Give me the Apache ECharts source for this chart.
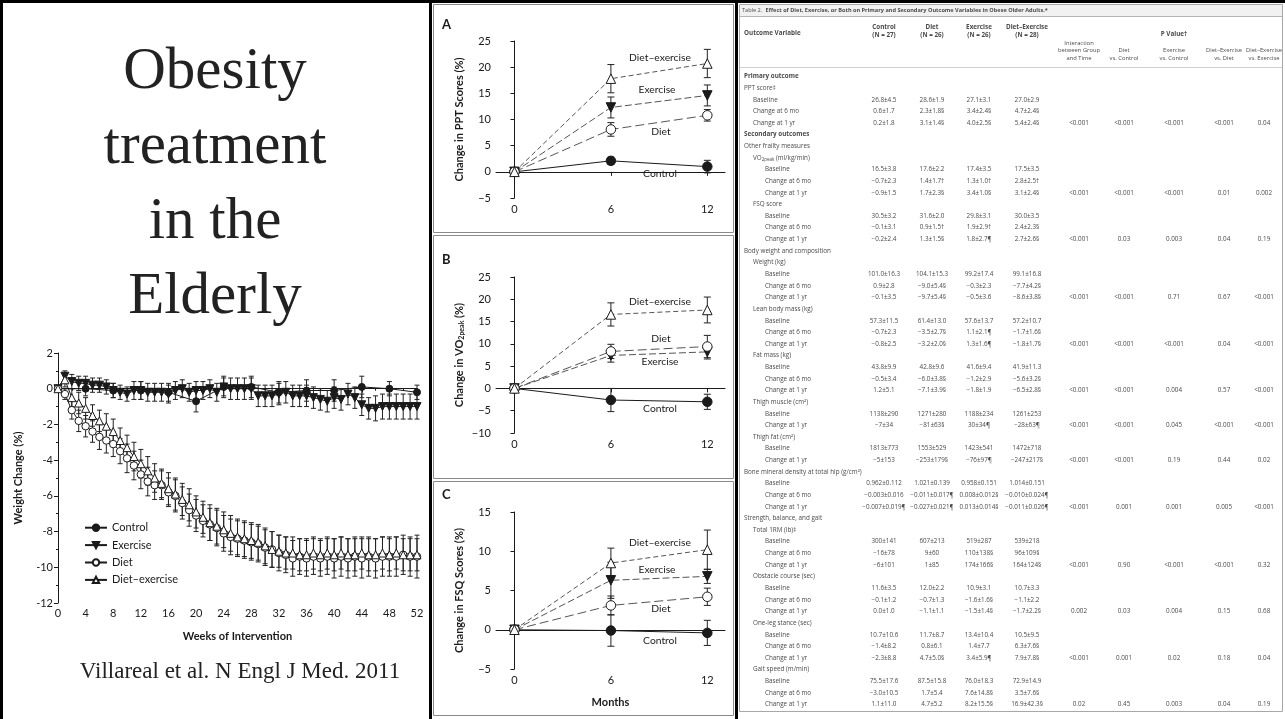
<!DOCTYPE html>
<html>
<head>
<meta charset="utf-8">
<script src="https://cdn.jsdelivr.net/npm/echarts@6/dist/echarts.min.js"></script>
<style>
  html, body { margin: 0; padding: 0; background: #fff; }
  #main { width: 1285px; height: 719px; }
</style>
</head>
<body>
<div id="main"></div>
<script>
// ---------- Weight change over 52 weeks (percent) ----------
const weeks = [0,1,2,3,4,5,6,7,8,9,10,11,12,13,14,15,16,17,18,19,20,21,22,23,24,25,26,
  27,28,29,30,31,32,33,34,35,36,37,38,39,40,41,42,43,44,45,46,47,48,49,50,51,52];

const controlWeeks = [0,4,8,12,16,20,24,28,32,36,40,44,48,52];
const controlWeight = [0,0.0,-0.1,-0.1,-0.2,-0.7,0.1,0.1,-0.2,-0.1,-0.1,0.1,0.0,-0.2];
const controlWeightSd = [0,0.4,0.4,0.5,0.5,0.6,0.6,0.6,0.6,0.6,0.6,0.6,0.4,0.4];

const exerciseWeight = [0,0.7,0.4,0.3,0.3,0.2,0.2,0.1,-0.1,-0.2,-0.3,-0.1,-0.1,-0.2,-0.2,-0.2,-0.3,
  -0.1,0.0,-0.2,-0.1,-0.1,0.0,-0.2,0.1,0.0,0.0,0.0,0.0,-0.4,-0.4,-0.4,-0.3,-0.2,-0.4,-0.4,-0.4,
  -0.5,-0.6,-0.7,-0.5,-0.6,-0.3,-0.5,-0.9,-1.1,-1.1,-1.0,-1.0,-1.0,-1.0,-1.0,-1.0];
const exerciseWeightSd = [0,0.3,0.4,0.4,0.4,0.4,0.4,0.4,0.4,0.4,0.4,0.5,0.5,0.5,0.5,0.5,0.5,0.5,
  0.5,0.5,0.5,0.5,0.5,0.5,0.5,0.6,0.6,0.6,0.6,0.6,0.6,0.6,0.6,0.6,0.6,0.6,0.6,0.6,0.6,0.6,0.6,
  0.6,0.6,0.6,0.6,0.6,0.7,0.7,0.7,0.7,0.7,0.7,0.7];

const dietWeight = [0,-0.3,-1.2,-1.8,-2.1,-2.4,-2.7,-2.9,-3.1,-3.5,-3.9,-4.3,-4.8,-5.2,-5.4,-5.4,
  -5.8,-6.0,-6.4,-6.8,-7.1,-7.4,-7.6,-7.8,-8.1,-8.3,-8.4,-8.5,-8.6,-8.7,-8.9,-9.0,-9.2,-9.3,-9.5,
  -9.4,-9.5,-9.4,-9.5,-9.4,-9.5,-9.4,-9.5,-9.4,-9.5,-9.4,-9.5,-9.4,-9.4,-9.4,-9.3,-9.4,-9.4];
const dietWeightSd = [0,0.3,0.5,0.6,0.6,0.6,0.7,0.7,0.7,0.7,0.8,0.8,0.8,0.8,0.8,0.8,0.8,0.9,0.9,
  0.9,0.9,0.9,0.9,1.0,1.0,1.0,1.0,1.0,1.0,1.0,1.0,1.0,1.0,1.0,1.0,1.0,1.0,1.0,1.0,1.0,1.1,1.1,
  1.1,1.1,1.1,1.1,1.1,1.1,1.1,1.1,1.1,1.1,1.2];

const dietExWeight = [0,0.5,-0.5,-0.8,-1.1,-1.5,-1.8,-2.1,-2.4,-2.9,-3.3,-3.8,-4.2,-4.6,-5.0,-5.3,
  -5.6,-5.9,-6.2,-6.5,-6.9,-7.2,-7.5,-7.7,-7.9,-8.1,-8.3,-8.4,-8.5,-8.6,-8.8,-9.0,-9.1,-9.2,-9.2,
  -9.3,-9.3,-9.2,-9.3,-9.2,-9.3,-9.2,-9.3,-9.3,-9.2,-9.3,-9.3,-9.2,-9.3,-9.2,-9.3,-9.3,-9.3];
const dietExWeightSd = [0,0.4,0.5,0.6,0.6,0.6,0.6,0.7,0.7,0.7,0.7,0.8,0.8,0.8,0.8,0.8,0.9,0.9,
  0.9,0.9,0.9,0.9,1.0,1.0,1.0,1.0,1.0,1.0,1.0,1.0,1.0,1.0,0.9,0.9,0.9,0.9,0.9,0.9,0.9,0.9,0.9,
  0.9,0.9,0.9,0.9,0.9,0.9,0.9,0.9,0.9,0.9,0.9,0.9];

// ---------- Panels A-C: percent change at 0, 6 and 12 months ----------
const months = [0, 6, 12];

const pptControl = [0, 2.1, 1.0],   pptControlSd = [0, 0.7, 1.2];
const pptDiet = [0, 8.1, 10.8],     pptDietSd = [0, 1.3, 1.1];
const pptExercise = [0, 12.3, 14.6], pptExerciseSd = [0, 2.0, 2.0];
const pptDietEx = [0, 17.8, 20.7],  pptDietExSd = [0, 2.7, 2.7];

const vo2Control = [0, -2.6, -3.0], vo2ControlSd = [0, 2.6, 1.7];
const vo2Diet = [0, 8.3, 9.4],      vo2DietSd = [0, 1.6, 2.5];
const vo2Exercise = [0, 7.4, 8.2],  vo2ExerciseSd = [0, 1.5, 1.6];
const vo2DietEx = [0, 16.6, 17.6],  vo2DietExSd = [0, 2.6, 2.9];

const fsqControl = [0, -0.1, -0.4], fsqControlSd = [0, 2.0, 1.6];
const fsqDiet = [0, 3.1, 4.2],      fsqDietSd = [0, 1.2, 1.1];
const fsqExercise = [0, 6.3, 6.8],  fsqExerciseSd = [0, 2.3, 0.9];
const fsqDietEx = [0, 8.5, 10.2],   fsqDietExSd = [0, 1.9, 2.5];

const groupNames = ['Control', 'Exercise', 'Diet', 'Diet\u2013exercise'];

// ---------- Table 2 ----------
const tableTitleLead = 'Table 2.';
const tableTitle = 'Effect of Diet, Exercise, or Both on Primary and Secondary Outcome Variables in Obese Older Adults.*';
const groupHeads = [['Control', '(N = 27)'], ['Diet', '(N = 26)'], ['Exercise', '(N = 26)'], ['Diet\u2013Exercise', '(N = 28)']];
const pHeads = [['Interaction', 'between Group', 'and Time'], ['Diet', 'vs. Control'], ['Exercise', 'vs. Control'],
  ['Diet\u2013Exercise', 'vs. Diet'], ['Diet\u2013Exercise', 'vs. Exercise']];

// [label, level, Control, Diet, Exercise, Diet–Exercise, P values...]; level -1 = section heading
const tableRows = [
  ['Primary outcome', -1],
  ['PPT score\u2021', 0],
  ['Baseline', 1, '26.8\u00b14.5', '28.6\u00b11.9', '27.1\u00b13.1', '27.0\u00b12.9'],
  ['Change at 6 mo', 1, '0.6\u00b11.7', '2.3\u00b11.8\u00a7', '3.4\u00b12.4\u00a7', '4.7\u00b12.4\u00a7'],
  ['Change at 1 yr', 1, '0.2\u00b11.8', '3.1\u00b11.4\u00a7', '4.0\u00b12.5\u00a7', '5.4\u00b12.4\u00a7', '<0.001', '<0.001', '<0.001', '<0.001', '0.04'],
  ['Secondary outcomes', -1],
  ['Other frailty measures', 0],
  ['VO2peak (ml/kg/min)', 1],
  ['Baseline', 2, '16.5\u00b13.8', '17.6\u00b12.2', '17.4\u00b13.5', '17.5\u00b13.5'],
  ['Change at 6 mo', 2, '\u22120.7\u00b12.3', '1.4\u00b11.7\u2020', '1.3\u00b11.0\u2020', '2.8\u00b12.5\u2020'],
  ['Change at 1 yr', 2, '\u22120.9\u00b11.5', '1.7\u00b12.3\u00a7', '3.4\u00b11.0\u00a7', '3.1\u00b12.4\u00a7', '<0.001', '<0.001', '<0.001', '0.01', '0.002'],
  ['FSQ score', 1],
  ['Baseline', 2, '30.5\u00b13.2', '31.6\u00b12.0', '29.8\u00b13.1', '30.0\u00b13.5'],
  ['Change at 6 mo', 2, '\u22120.1\u00b13.1', '0.9\u00b11.5\u2020', '1.9\u00b12.9\u2020', '2.4\u00b12.3\u00a7'],
  ['Change at 1 yr', 2, '\u22120.2\u00b12.4', '1.3\u00b11.5\u00a7', '1.8\u00b12.7\u00b6', '2.7\u00b12.6\u00a7', '<0.001', '0.03', '0.003', '0.04', '0.19'],
  ['Body weight and composition', 0],
  ['Weight (kg)', 1],
  ['Baseline', 2, '101.0\u00b116.3', '104.1\u00b115.3', '99.2\u00b117.4', '99.1\u00b116.8'],
  ['Change at 6 mo', 2, '0.9\u00b12.8', '\u22129.0\u00b15.4\u00a7', '\u22120.3\u00b12.3', '\u22127.7\u00b14.2\u00a7'],
  ['Change at 1 yr', 2, '\u22120.1\u00b13.5', '\u22129.7\u00b15.4\u00a7', '\u22120.5\u00b13.6', '\u22128.6\u00b13.8\u00a7', '<0.001', '<0.001', '0.71', '0.67', '<0.001'],
  ['Lean body mass (kg)', 1],
  ['Baseline', 2, '57.3\u00b111.5', '61.4\u00b113.0', '57.6\u00b113.7', '57.2\u00b110.7'],
  ['Change at 6 mo', 2, '\u22120.7\u00b12.3', '\u22123.5\u00b12.7\u00a7', '1.1\u00b12.1\u00b6', '\u22121.7\u00b11.6\u00a7'],
  ['Change at 1 yr', 2, '\u22120.8\u00b12.5', '\u22123.2\u00b12.0\u00a7', '1.3\u00b11.6\u00b6', '\u22121.8\u00b11.7\u00a7', '<0.001', '<0.001', '<0.001', '0.04', '<0.001'],
  ['Fat mass (kg)', 1],
  ['Baseline', 2, '43.8\u00b19.9', '42.8\u00b19.6', '41.6\u00b19.4', '41.9\u00b111.3'],
  ['Change at 6 mo', 2, '\u22120.5\u00b13.4', '\u22126.0\u00b13.8\u00a7', '\u22121.2\u00b12.9', '\u22125.6\u00b13.2\u00a7'],
  ['Change at 1 yr', 2, '1.2\u00b15.1', '\u22127.1\u00b13.9\u00a7', '\u22121.8\u00b11.9', '\u22126.5\u00b12.8\u00a7', '<0.001', '<0.001', '0.004', '0.57', '<0.001'],
  ['Thigh muscle (cm\u00b2)', 1],
  ['Baseline', 2, '1138\u00b1290', '1271\u00b1280', '1188\u00b1234', '1261\u00b1253'],
  ['Change at 1 yr', 2, '\u22127\u00b134', '\u221281\u00b163\u00a7', '30\u00b134\u00b6', '\u221228\u00b163\u00b6', '<0.001', '<0.001', '0.045', '<0.001', '<0.001'],
  ['Thigh fat (cm\u00b2)', 1],
  ['Baseline', 2, '1813\u00b1773', '1553\u00b1529', '1423\u00b1541', '1472\u00b1718'],
  ['Change at 1 yr', 2, '\u22125\u00b1153', '\u2212253\u00b1179\u00a7', '\u221276\u00b197\u00b6', '\u2212247\u00b1217\u00a7', '<0.001', '<0.001', '0.19', '0.44', '0.02'],
  ['Bone mineral density at total hip (g/cm\u00b2)', 0],
  ['Baseline', 2, '0.962\u00b10.112', '1.021\u00b10.139', '0.958\u00b10.151', '1.014\u00b10.151'],
  ['Change at 6 mo', 2, '\u22120.003\u00b10.016', '\u22120.011\u00b10.017\u00b6', '0.008\u00b10.012\u00a7', '\u22120.010\u00b10.024\u00b6'],
  ['Change at 1 yr', 2, '\u22120.007\u00b10.019\u00b6', '\u22120.027\u00b10.021\u00b6', '0.013\u00b10.014\u00a7', '\u22120.011\u00b10.026\u00b6', '<0.001', '0.001', '0.001', '0.005', '<0.001'],
  ['Strength, balance, and gait', 0],
  ['Total 1RM (lb)\u2021', 1],
  ['Baseline', 2, '300\u00b1141', '607\u00b1213', '519\u00b1287', '539\u00b1218'],
  ['Change at 6 mo', 2, '\u221216\u00b178', '9\u00b160', '110\u00b1138\u00a7', '96\u00b1109\u00a7'],
  ['Change at 1 yr', 2, '\u22126\u00b1101', '1\u00b185', '174\u00b1166\u00a7', '164\u00b1124\u00a7', '<0.001', '0.90', '<0.001', '<0.001', '0.32'],
  ['Obstacle course (sec)', 1],
  ['Baseline', 2, '11.6\u00b13.5', '12.0\u00b12.2', '10.9\u00b13.1', '10.7\u00b13.3'],
  ['Change at 6 mo', 2, '\u22120.1\u00b11.2', '\u22120.7\u00b11.3', '\u22121.6\u00b11.6\u00a7', '\u22121.1\u00b12.2'],
  ['Change at 1 yr', 2, '0.0\u00b11.0', '\u22121.1\u00b11.1', '\u22121.5\u00b11.4\u00a7', '\u22121.7\u00b12.2\u00a7', '0.002', '0.03', '0.004', '0.15', '0.68'],
  ['One-leg stance (sec)', 1],
  ['Baseline', 2, '10.7\u00b110.6', '11.7\u00b18.7', '13.4\u00b110.4', '10.5\u00b19.5'],
  ['Change at 6 mo', 2, '\u22121.4\u00b18.2', '0.8\u00b16.1', '1.4\u00b17.7', '6.3\u00b17.6\u00a7'],
  ['Change at 1 yr', 2, '\u22122.3\u00b18.8', '4.7\u00b15.0\u00a7', '3.4\u00b15.9\u00b6', '7.9\u00b17.8\u00a7', '<0.001', '0.001', '0.02', '0.18', '0.04'],
  ['Gait speed (m/min)', 1],
  ['Baseline', 2, '75.5\u00b117.6', '87.5\u00b115.8', '76.0\u00b118.3', '72.9\u00b114.9'],
  ['Change at 6 mo', 2, '\u22123.0\u00b110.5', '1.7\u00b15.4', '7.6\u00b114.8\u00a7', '3.5\u00b17.6\u00a7'],
  ['Change at 1 yr', 2, '1.1\u00b111.0', '4.7\u00b15.2', '8.2\u00b115.5\u00a7', '16.9\u00b142.3\u00a7', '0.02', '0.45', '0.003', '0.04', '0.19']
];

// ---------- Slide text ----------
const titleLines = ['Obesity', 'treatment', 'in the', 'Elderly'];
const citation = 'Villareal et al. N Engl J Med. 2011';

// ================= layout & styling =================
const SANS = 'Lato, "Open Sans", sans-serif';
const SERIF = '"Liberation Serif", "DejaVu Serif", serif';
const INK = '#1a1a1a';

const chart = echarts.init(document.getElementById('main'), null, { renderer: 'canvas' });

function errBars(xi, xs, ys, sds, cap, z) {
  return {
    type: 'custom', xAxisIndex: xi, yAxisIndex: xi, silent: true, z: z || 1,
    data: xs.map((x, i) => [x, ys[i], sds[i]]),
    encode: { x: 0, y: 1 },
    renderItem(params, api) {
      const e = api.value(2);
      if (!e) return null;
      const x = api.value(0), y = api.value(1);
      const t = api.coord([x, y + e]), b = api.coord([x, y - e]);
      const st = { stroke: '#222', lineWidth: 1 };
      return { type: 'group', children: [
        { type: 'line', shape: { x1: t[0], y1: t[1], x2: b[0], y2: b[1] }, style: st },
        { type: 'line', shape: { x1: t[0] - cap, y1: t[1], x2: t[0] + cap, y2: t[1] }, style: st },
        { type: 'line', shape: { x1: b[0] - cap, y1: b[1], x2: b[0] + cap, y2: b[1] }, style: st }
      ] };
    }
  };
}

const markerStyles = {
  Control: { symbol: 'circle', rotate: 0, fill: INK },
  Exercise: { symbol: 'triangle', rotate: 180, fill: INK },
  Diet: { symbol: 'circle', rotate: 0, fill: '#fff' },
  'Diet\u2013exercise': { symbol: 'triangle', rotate: 0, fill: '#fff' }
};

function lineSeries(name, xi, xs, ys, size, dash, color) {
  const m = markerStyles[name];
  return {
    type: 'line', name: xi === 0 ? name : name + ' ' + xi, xAxisIndex: xi, yAxisIndex: xi,
    data: xs.map((x, i) => [x, ys[i]]),
    symbol: m.symbol, symbolRotate: m.rotate, symbolSize: size, z: 3,
    itemStyle: { color: m.fill, borderColor: INK, borderWidth: 1 },
    lineStyle: { color: color || INK, width: 1, type: dash || 'solid' },
    emphasis: { disabled: true }, animation: false
  };
}

// weight chart series
const series = [
  errBars(0, controlWeeks, controlWeight, controlWeightSd, 2.5),
  errBars(0, weeks, exerciseWeight, exerciseWeightSd, 2.5),
  errBars(0, weeks, dietWeight, dietWeightSd, 2.5),
  errBars(0, weeks, dietExWeight, dietExWeightSd, 2.5),
  lineSeries('Control', 0, controlWeeks, controlWeight, 7),
  lineSeries('Exercise', 0, weeks, exerciseWeight, 8),
  lineSeries('Diet', 0, weeks, dietWeight, 7.5),
  lineSeries('Diet\u2013exercise', 0, weeks, dietExWeight, 8)
];

// panel series
const panels = [
  [pptControl, pptControlSd, pptExercise, pptExerciseSd, pptDiet, pptDietSd, pptDietEx, pptDietExSd],
  [vo2Control, vo2ControlSd, vo2Exercise, vo2ExerciseSd, vo2Diet, vo2DietSd, vo2DietEx, vo2DietExSd],
  [fsqControl, fsqControlSd, fsqExercise, fsqExerciseSd, fsqDiet, fsqDietSd, fsqDietEx, fsqDietExSd]
];
const panelDash = ['solid', [7, 3], [9, 4], [5, 3]];
panels.forEach((p, k) => {
  const xi = k + 1;
  for (let g = 0; g < 4; g++) series.push(errBars(xi, months, p[g * 2], p[g * 2 + 1], 3.5));
  for (let g = 0; g < 4; g++) {
    series.push(lineSeries(groupNames[g], xi, months, p[g * 2], 9.5, panelDash[g], g ? '#555' : INK));
  }
});

// ---------- axes ----------
const axisLine = { show: true, lineStyle: { color: INK, width: 1 } };
const tick = { show: true, length: 4, lineStyle: { color: INK } };
const labelStyle = { color: INK, fontFamily: SANS, fontSize: 11 };
const nameStyle = { color: INK, fontFamily: SANS, fontSize: 11, fontWeight: 'bold' };
const minusFmt = v => String(v).replace('-', '\u2212');

const grids = [
  { left: 58, top: 353, width: 359, height: 250 },
  { left: 496, top: 41, width: 229, height: 157 },
  { left: 496, top: 277, width: 229, height: 156 },
  { left: 496, top: 512, width: 229, height: 157 }
];

const xAxes = [
  { gridIndex: 0, type: 'value', min: 0, max: 52, interval: 4, axisLine, axisTick: tick,
    minorTick: { show: true, splitNumber: 2, length: 2, lineStyle: { color: INK } },
    splitLine: { show: false }, axisLabel: Object.assign({ margin: 5 }, labelStyle),
    name: 'Weeks of Intervention', nameLocation: 'middle', nameGap: 28, nameTextStyle: nameStyle }
];
for (let k = 1; k <= 3; k++) {
  xAxes.push({ gridIndex: k, type: 'value', min: -1.15, max: 13.1, axisLine,
    axisTick: Object.assign({ customValues: months }, tick), splitLine: { show: false },
    axisLabel: Object.assign({ customValues: months, margin: 6 }, labelStyle),
    name: k === 3 ? 'Months' : '', nameLocation: 'middle', nameGap: 28, nameTextStyle: nameStyle });
}

const yAxes = [
  { gridIndex: 0, type: 'value', min: -12, max: 2, interval: 2, axisLine, axisTick: tick,
    minorTick: { show: true, splitNumber: 2, length: 2, lineStyle: { color: INK } },
    splitLine: { show: false }, axisLabel: Object.assign({ margin: 5 }, labelStyle),
    name: 'Weight Change (%)', nameLocation: 'middle', nameGap: 34, nameTextStyle: nameStyle },
  { gridIndex: 1, type: 'value', min: -5, max: 25, interval: 5, axisLine, axisTick: tick,
    splitLine: { show: false }, axisLabel: Object.assign({ margin: 5, formatter: minusFmt }, labelStyle),
    name: 'Change in PPT Scores (%)', nameLocation: 'middle', nameGap: 31, nameTextStyle: nameStyle },
  { gridIndex: 2, type: 'value', min: -10, max: 25, interval: 5, axisLine, axisTick: tick,
    splitLine: { show: false }, axisLabel: Object.assign({ margin: 5, formatter: minusFmt }, labelStyle),
    name: 'Change in VO{s|2peak} (%)', nameLocation: 'middle', nameGap: 31,
    nameTextStyle: Object.assign({ rich: { s: { fontFamily: SANS, fontSize: 7, fontWeight: 'bold', color: INK, padding: [5, 0, 0, 0] } } }, nameStyle) },
  { gridIndex: 3, type: 'value', min: -5, max: 15, interval: 5, axisLine, axisTick: tick,
    splitLine: { show: false }, axisLabel: Object.assign({ margin: 5, formatter: minusFmt }, labelStyle),
    name: 'Change in FSQ Scores (%)', nameLocation: 'middle', nameGap: 31, nameTextStyle: nameStyle }
];

// ---------- graphic: slide frame, title, panel tags, table ----------
const g = [];
function txt(x, y, text, font, opts) {
  g.push(Object.assign({ type: 'text', x, y, silent: true, z: 10,
    style: Object.assign({ text, font, fill: INK, textAlign: 'left', align: 'left',
      textVerticalAlign: 'middle', verticalAlign: 'middle' }, (opts && opts.style) || {}) }, (opts && opts.el) || {}));
}
function ctr(x, y, text, font, fill) {
  txt(x, y, text, font, { style: { textAlign: 'center', align: 'center', fill: fill || INK } });
}
function rect(x, y, w, h, fill) {
  g.push({ type: 'rect', silent: true, z: 20, shape: { x, y, width: w, height: h }, style: { fill } });
}
function frame(x, y, w, h, stroke) {
  g.push({ type: 'rect', silent: true, z: 0, shape: { x, y, width: w, height: h }, style: { fill: 'none', stroke, lineWidth: 1 } });
}
function hline(x1, x2, y, stroke) {
  g.push({ type: 'line', silent: true, z: 0, shape: { x1, y1: y, x2, y2: y }, style: { stroke, lineWidth: 1 } });
}

// slide frame and column dividers
rect(0, 0, 1285, 3, '#000');
rect(0, 0, 3, 719, '#000');
rect(429, 0, 3, 719, '#000');
rect(735, 0, 3, 719, '#000');
// panel frames in the middle column
frame(433.5, 4.5, 300, 228, '#8a8a8a');
frame(433.5, 235.5, 300, 243, '#8a8a8a');
frame(433.5, 481.5, 300, 234, '#8a8a8a');

// slide title and citation
const titleY = [72, 147, 222, 297];
titleLines.forEach((t, i) => ctr(215, titleY[i], t, '59px ' + SERIF, '#222'));
ctr(240, 672, citation, '23px ' + SERIF, '#222');

// panel letters
[['A', 25], ['B', 260], ['C', 495]].forEach(([t, y]) => txt(442, y, t, 'bold 13px ' + SANS));

// group tags beside the lines
const tagFont = '10.3px ' + SANS;
const tagPos = [
  [[660, 174], [657, 90], [661, 132], [660, 58]],
  [[660, 409], [660, 362], [661, 339], [660, 302]],
  [[660, 641], [657, 570], [661, 609], [660, 543]]
];
tagPos.forEach(panel => panel.forEach((p, gi) => ctr(p[0], p[1], groupNames[gi], tagFont)));

// table
const TF = '"Open Sans", Lato, sans-serif';
const tFont = '6.3px ' + TF, tBold = 'bold 6.3px ' + TF;
const hFont = '5.8px ' + TF;
const TC = '#4a4a4a';
frame(739.5, 4.5, 543, 707, '#a8a8a8');
g.push({ type: 'rect', silent: true, z: 0, shape: { x: 740, y: 5, width: 542, height: 11 }, style: { fill: '#f1f1f1' } });
hline(740, 1282, 16.5, '#b5b5b5');
hline(740, 1282, 67.5, '#d0d0d0');
txt(742, 10.5, '{a|' + tableTitleLead + '} {b|' + tableTitle + '}', '', {
  style: { rich: { a: { font: '5.6px ' + TF, fill: TC }, b: { font: 'bold 5.6px ' + TF, fill: TC } } } });
txt(744, 33, 'Outcome Variable', tBold, { style: { fill: TC } });
const valueCols = [884, 932, 979, 1027];
const pCols = [1079, 1124, 1174, 1224, 1264];
groupHeads.forEach((h, i) => { ctr(valueCols[i], 27.5, h[0], tBold, TC); ctr(valueCols[i], 35, h[1], tBold, TC); });
ctr(1174, 34, 'P Value\u2020', tBold, TC);
pHeads.forEach((h, i) => {
  const y0 = h.length === 3 ? 43 : 50.6;
  h.forEach((s, j) => ctr(pCols[i], y0 + j * 7.6, s, hFont, TC));
});
const levelX = { '-1': 744, 0: 744, 1: 753, 2: 765 };
tableRows.forEach((r, i) => {
  const y = 76.5 + i * 11.63;
  const label = r[0], lvl = r[1];
  if (label.indexOf('VO2peak') === 0) {
    txt(levelX[lvl], y, '{n|VO}{s|2peak}{n| (ml/kg/min)}', '', {
      style: { rich: { n: { font: tFont, fill: TC }, s: { font: '4.5px ' + TF, fill: TC, padding: [3, 0, 0, 0] } } } });
  } else {
    txt(levelX[lvl], y, label, lvl === -1 ? tBold : tFont, { style: { fill: TC } });
  }
  for (let c = 0; c < 4; c++) if (r[2 + c]) ctr(valueCols[c], y, r[2 + c], tFont, TC);
  for (let c = 0; c < 5; c++) if (r[6 + c]) ctr(pCols[c], y, r[6 + c], tFont, TC);
});

chart.setOption({
  animation: false,
  backgroundColor: '#fff',
  textStyle: { fontFamily: SANS },
  grid: grids,
  xAxis: xAxes,
  yAxis: yAxes,
  legend: {
    left: 79, top: 516, orient: 'vertical', itemWidth: 22, itemHeight: 8, itemGap: 4,
    selectedMode: false, data: groupNames,
    textStyle: { color: INK, fontFamily: SANS, fontSize: 11, lineHeight: 13.4 }
  },
  series,
  graphic: { elements: g }
});
</script>
</body>
</html>
